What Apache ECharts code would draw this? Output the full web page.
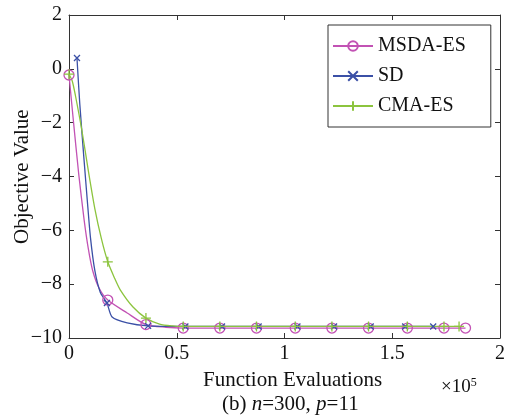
<!DOCTYPE html>
<html>
<head>
    <meta charset="UTF-8">
    <title>Objective Value</title>
    <script src="https://cdn.jsdelivr.net/npm/echarts@6/dist/echarts.min.js"></script>
    <style>
        html, body { margin: 0; padding: 0; background: #fff; }
        #chart { width: 509px; height: 419px; }
    </style>
</head>
<body>
<div id="chart"></div>
<script>
    // x in units of 1e5 function evaluations
    var xTicks = [0, 0.5, 1, 1.5, 2];
    var yTicks = [-10, -8, -6, -4, -2, 0, 2];

    var msdaCurveX = [0.02, 0.045, 0.07, 0.09, 0.11, 0.14, 0.27, 0.45];
    var msdaCurveY = [-1.9, -3.9, -5.6, -6.7, -7.5, -8.15, -9.07, -9.6];
    var msdaMarkX = [0, 0.18, 0.357, 0.53, 0.70, 0.87, 1.05, 1.22, 1.39, 1.57, 1.74, 1.84];
    var msdaMarkY = [-0.23, -8.59, -9.5, -9.63, -9.63, -9.63, -9.63, -9.63, -9.63, -9.63, -9.63, -9.63];

    // SD
    var sdCurveX = [0.05, 0.07, 0.085, 0.10, 0.12, 0.145, 0.2, 0.27];
    var sdCurveY = [-1.3, -3.4, -4.9, -6.3, -7.5, -8.3, -9.22, -9.44];
    var sdMarkX = [0.037, 0.176, 0.367, 0.54, 0.71, 0.88, 1.06, 1.23, 1.40, 1.56, 1.69];
    var sdMarkY = [0.4, -8.7, -9.55, -9.57, -9.57, -9.57, -9.57, -9.57, -9.57, -9.57, -9.57];

    // CMA-ES
    var cmaCurveX = [0.015, 0.03, 0.06, 0.09, 0.12, 0.15, 0.21, 0.237, 0.297, 0.42, 0.48];
    var cmaCurveY = [-0.45, -1.0, -2.3, -3.8, -5.2, -6.3, -7.75, -8.2, -8.85, -9.48, -9.55];
    var cmaMarkX = [0, 0.18, 0.357, 0.53, 0.70, 0.87, 1.05, 1.22, 1.39, 1.57, 1.74, 1.81];
    var cmaMarkY = [-0.2, -7.17, -9.26, -9.57, -9.57, -9.57, -9.57, -9.57, -9.57, -9.57, -9.57, -9.57];

    var serif = "'Liberation Serif', 'DejaVu Serif', serif";

    function buildData(cx, cy, mx, my) {
        var pts = [];
        for (var i = 0; i < cx.length; i++) {
            pts.push({ value: [cx[i], cy[i]], symbol: 'none' });
        }
        for (var j = 0; j < mx.length; j++) {
            pts.push({ value: [mx[j], my[j]] });
        }
        pts.sort(function (a, b) { return a.value[0] - b.value[0]; });
        return pts;
    }

    function fmtNum(v) {
        return v < 0 ? '\u2212' + Math.abs(v) : String(v);
    }

    var chart = echarts.init(document.getElementById('chart'));

    var axisColor = '#333';

    var option = {
        animation: false,
        backgroundColor: '#fff',
        grid: { left: 69, right: 9, top: 15, bottom: 81 },
        legend: {
            orient: 'vertical',
            left: 328,
            top: 25,
            padding: [11, 25, 11, 4],
            itemWidth: 40,
            itemHeight: 12,
            itemGap: 10,
            borderColor: axisColor,
            borderWidth: 1,
            backgroundColor: '#fff',
            textStyle: { fontFamily: serif, fontSize: 20, color: '#111' },
            data: ['MSDA-ES', 'SD', 'CMA-ES']
        },
        xAxis: [{
            type: 'value',
            min: 0, max: 2, interval: 0.5,
            axisLine: { onZero: false, lineStyle: { color: axisColor, width: 1 } },
            axisTick: { inside: true, length: 5, lineStyle: { color: axisColor } },
            axisLabel: { fontFamily: serif, fontSize: 20, color: '#111', margin: 6,
                formatter: function (v) { return fmtNum(v); } },
            splitLine: { show: false }
        }, {
            type: 'value', position: 'top',
            min: 0, max: 2, interval: 0.5,
            axisLine: { show: true, onZero: false, lineStyle: { color: axisColor, width: 1 } },
            axisTick: { inside: true, length: 5, lineStyle: { color: axisColor } },
            axisLabel: { show: false },
            splitLine: { show: false }
        }],
        yAxis: [{
            type: 'value',
            min: -10, max: 2, interval: 2,
            axisLine: { show: true, onZero: false, lineStyle: { color: axisColor, width: 1 } },
            axisTick: { show: true, inside: true, length: 5, lineStyle: { color: axisColor } },
            axisLabel: { fontFamily: serif, fontSize: 20, color: '#111', margin: 7,
                formatter: function (v) { return fmtNum(v); } },
            splitLine: { show: false }
        }, {
            type: 'value', position: 'right',
            min: -10, max: 2, interval: 2,
            axisLine: { show: true, onZero: false, lineStyle: { color: axisColor, width: 1 } },
            axisTick: { show: true, inside: true, length: 5, lineStyle: { color: axisColor } },
            axisLabel: { show: false },
            splitLine: { show: false }
        }],
        series: [{
            name: 'MSDA-ES',
            type: 'line',
            smooth: 0.25,
            symbol: 'circle',
            symbolSize: 10,
            lineStyle: { color: '#c252b4', width: 1.3 },
            itemStyle: { color: 'rgba(255,255,255,0)', borderColor: '#c252b4', borderWidth: 1.3 },
            data: buildData(msdaCurveX, msdaCurveY, msdaMarkX, msdaMarkY)
        }, {
            name: 'SD',
            type: 'line',
            smooth: 0.25,
            symbol: 'path://M0,0L10,10M10,0L0,10',
            symbolSize: 6,
            lineStyle: { color: '#3b50a6', width: 1.3 },
            itemStyle: { color: 'rgba(255,255,255,0)', borderColor: '#3b50a6', borderWidth: 1.3 },
            data: buildData(sdCurveX, sdCurveY, sdMarkX, sdMarkY)
        }, {
            name: 'CMA-ES',
            type: 'line',
            smooth: 0.25,
            symbol: 'path://M5,0L5,10M0,5L10,5',
            symbolSize: 10,
            lineStyle: { color: '#8cc43e', width: 1.3 },
            itemStyle: { color: 'rgba(255,255,255,0)', borderColor: '#8cc43e', borderWidth: 1.3 },
            data: buildData(cmaCurveX, cmaCurveY, cmaMarkX, cmaMarkY)
        }],
        graphic: [{
            type: 'text',
            left: 203, top: 370,
            style: { text: 'Function Evaluations', font: '21px ' + serif, fill: '#111' }
        }, {
            type: 'text',
            left: 441, top: 377,
            style: {
                text: '{a|\u00d710}{b|5}',
                fill: '#111',
                rich: {
                    a: { font: '19px ' + serif, fill: '#111' },
                    b: { font: '12px ' + serif, fill: '#111', verticalAlign: 'top', padding: [0, 0, 8, 0] }
                }
            }
        }, {
            type: 'text',
            left: 222, top: 394,
            style: {
                text: '{r|(b) }{i|n}{r|=300, }{i|p}{r|=11}',
                fill: '#111',
                rich: {
                    r: { font: '21px ' + serif, fill: '#111' },
                    i: { font: 'italic 21px ' + serif, fill: '#111' }
                }
            }
        }, {
            type: 'text',
            x: 12, y: 244,
            rotation: Math.PI / 2,
            style: { text: 'Objective Value', font: '21px ' + serif, fill: '#111' }
        }]
    };

    chart.setOption(option);
</script>
</body>
</html>
